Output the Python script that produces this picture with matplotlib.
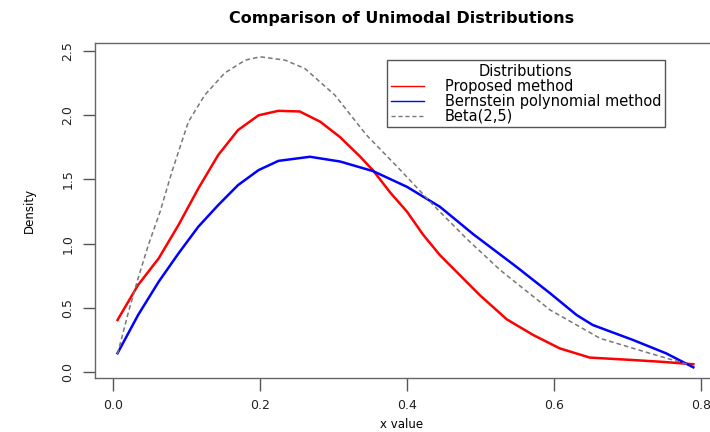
import matplotlib
matplotlib.use("Agg")
import matplotlib.pyplot as plt

plt.rcParams['font.family'] = ['DejaVu Sans']

# values
prop_x = [0.006, 0.034, 0.062, 0.089, 0.116, 0.143, 0.170, 0.198, 0.225, 0.254,
          0.282, 0.309, 0.336, 0.354, 0.377, 0.400, 0.422, 0.445, 0.472, 0.499,
          0.536, 0.572, 0.608, 0.649, 0.708, 0.750, 0.790]
prop_y = [0.405, 0.678, 0.885, 1.145, 1.43, 1.69, 1.885, 2.0, 2.035, 2.03,
          1.95, 1.83, 1.68, 1.57, 1.40, 1.25, 1.07, 0.91, 0.755, 0.60,
          0.41, 0.288, 0.184, 0.112, 0.093, 0.078, 0.06]

bern_x = [0.006, 0.034, 0.062, 0.089, 0.116, 0.143, 0.170, 0.198, 0.225, 0.268,
          0.309, 0.354, 0.400, 0.445, 0.490, 0.549, 0.595, 0.631, 0.653, 0.708,
          0.753, 0.790]
bern_y = [0.146, 0.444, 0.703, 0.924, 1.132, 1.30, 1.456, 1.573, 1.645, 1.677,
          1.64, 1.565, 1.443, 1.287, 1.075, 0.82, 0.613, 0.444, 0.366, 0.249,
          0.145, 0.036]

beta_x = [0.006, 0.021, 0.034, 0.048, 0.064, 0.080, 0.1025, 0.125, 0.152, 0.18,
          0.20, 0.234, 0.261, 0.302, 0.345, 0.39, 0.436, 0.481, 0.527, 0.595,
          0.663, 0.731, 0.785]
beta_y = [0.14, 0.47, 0.73, 0.99, 1.25, 1.56, 1.95, 2.16, 2.33, 2.43,
          2.456, 2.43, 2.365, 2.157, 1.846, 1.58, 1.30, 1.04, 0.794, 0.483,
          0.262, 0.145, 0.055]

x_ticks = [0.0, 0.2, 0.4, 0.6, 0.8]
y_ticks = [0.0, 0.5, 1.0, 1.5, 2.0, 2.5]

fig = plt.figure(figsize=(7.1, 4.32), dpi=100)
ax = fig.add_axes([0.134, 0.125, 0.874, 0.775])

ax.plot(prop_x, prop_y, color='red', lw=1.8, label='Proposed method')
ax.plot(bern_x, bern_y, color='blue', lw=1.8, label='Bernstein polynomial method')
ax.plot(beta_x, beta_y, color='#777777', lw=1.1, ls=(0, (3, 2)), label='Beta(2,5)')

ax.set_xlim(-0.0245, 0.8204)
ax.set_ylim(-0.047, 2.562)
ax.set_xticks(x_ticks)
ax.set_xticklabels(['%.1f' % v for v in x_ticks])
ax.set_yticks(y_ticks)
ax.set_yticklabels(['%.1f' % v for v in y_ticks], rotation=90, va='center')
ax.tick_params(direction='out', length=9, width=1, color='#555555',
               labelsize=9, labelcolor='#222222', pad=6)

for s in ax.spines.values():
    s.set_color('#666666')
    s.set_linewidth(1)

# axis labels placed by hand, R puts them low
fig.text(0.566, 1 - 425 / 432, 'x value', ha='center', va='center', fontsize=8.5)
ax.set_ylabel('Density', fontsize=8.5, labelpad=18)
fig.text(0.566, 0.957, 'Comparison of Unimodal Distributions', ha='center',
         va='center', fontsize=11.5, fontweight='bold')

leg = ax.legend(loc='upper left', bbox_to_anchor=(387 / 710, 1 - 60 / 432),
                bbox_transform=fig.transFigure, title='Distributions',
                fontsize=10.5, title_fontsize=10.5, fancybox=False, framealpha=1,
                edgecolor='#555555', handlelength=2.3, labelspacing=0.0,
                borderpad=0.25, handletextpad=1.4, borderaxespad=0)
for h in leg.get_lines():
    h.set_linewidth(1.0)
leg.get_frame().set_linewidth(1.0)

fig.savefig('out.png', dpi=100)
